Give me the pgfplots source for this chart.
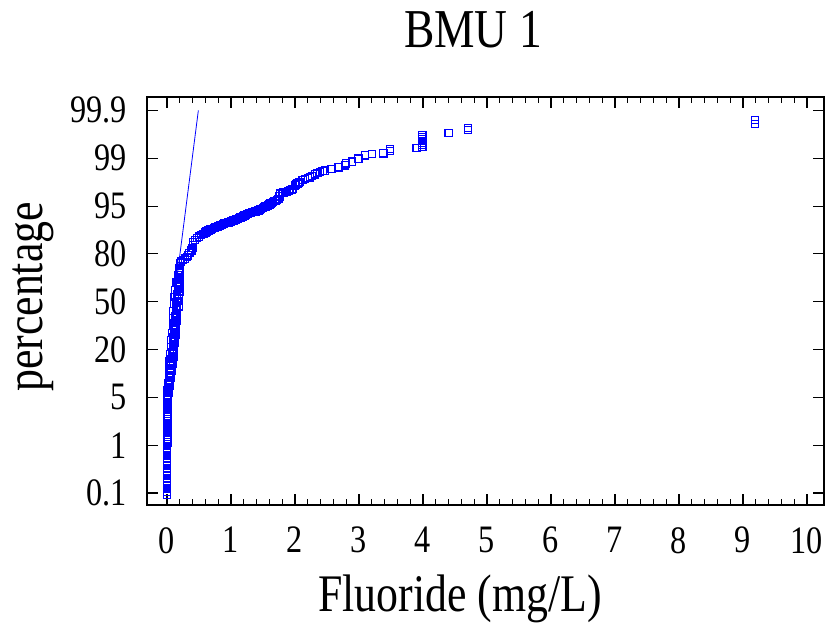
\documentclass[border=0pt]{standalone}
\usepackage{pgfplots}
\pgfplotsset{compat=1.18}
\usepackage{fontspec}
\setmainfont{Liberation Serif}[FakeStretch=0.83]
\begin{document}
\begin{tikzpicture}
\useasboundingbox (0,0) rectangle (825bp,624bp);
\begin{axis}[
  at={(147bp,119bp)}, anchor=south west,
  scale only axis, width=677bp, height=408bp,
  xmin=-0.3125, xmax=10.266, ymin=-0.25, ymax=8.28,
  axis line style={line width=1.2bp},
  tick style={line width=1.1bp, black},
  tick align=inside,
  major tick length=11bp, minor tick length=6bp,
  xtick={0,1,...,10}, minor x tick num=4,
  ytick={0,1,...,8},
  yticklabels={0.1,1,5,20,50,80,95,99,99.9},
  /pgf/number format/assume math mode=true,
  ticklabel style={font=\fontsize{39}{42}\selectfont, inner sep=0pt},
  xticklabel style={anchor=north, yshift=-22bp},
  yticklabel style={anchor=east, xshift=-20bp},
  clip=false,
]
\addplot[only marks, mark=square, mark size=3.6bp, mark options={draw=blue, fill=none, line width=1.2bp}] coordinates {
(0,-0.04) (0,0.02) (0,0.08) (0,0.14) (0,0.20) (0,0.26) (0,0.32) (0,0.38) (0,0.44) (0,0.50)
(0,0.56) (0,0.62) (0,0.68) (0,0.74) (0,0.80) (0,0.86) (0,0.92) (0,0.98)
(0,1.02) (0.01,1.06) (0.02,1.10) (0,1.14) (0.01,1.18) (0.02,1.22) (0,1.26) (0.01,1.30) (0.02,1.34)
(0,1.38) (0.01,1.42) (0.02,1.46) (0,1.50) (0.01,1.54) (0.02,1.58) (0,1.62) (0.01,1.66) (0.02,1.70)
(0,1.74) (0.01,1.78) (0.02,1.82) (0,1.86) (0.01,1.90) (0.02,1.94) (0,1.98)
(0.00,2.00) (0.01,2.05) (0.03,2.10) (0.01,2.15) (0.03,2.20) (0.04,2.25) (0.02,2.30) (0.04,2.35)
(0.06,2.40) (0.03,2.45) (0.05,2.50) (0.07,2.55) (0.04,2.60) (0.06,2.65) (0.09,2.70) (0.04,2.75)
(0.07,2.80) (0.10,2.85) (0.05,2.90) (0.08,2.95) (0.11,3.00) (0.06,3.05) (0.09,3.10) (0.12,3.15)
(0.07,3.20) (0.10,3.25) (0.13,3.30) (0.08,3.35) (0.11,3.40) (0.14,3.45) (0.09,3.50) (0.12,3.55)
(0.15,3.60) (0.10,3.65) (0.13,3.70) (0.16,3.75) (0.10,3.80) (0.14,3.85) (0.18,3.90) (0.11,3.95)
(0.15,4.00) (0.19,4.05) (0.12,4.10) (0.16,4.15) (0.20,4.20) (0.13,4.25) (0.17,4.30) (0.20,4.35)
(0.15,4.40) (0.18,4.45) (0.20,4.50) (0.17,4.55) (0.19,4.60) (0.20,4.65) (0.19,4.70) (0.20,4.75)
(0.20,4.80)
(0.02,2.02) (0.02,2.12) (0.02,2.22) (0.03,2.32) (0.04,2.42) (0.05,2.52) (0.05,2.62) (0.07,2.72)
(0.08,2.82) (0.09,2.92) (0.09,3.02) (0.10,3.12) (0.11,3.22) (0.12,3.32) (0.12,3.42) (0.13,3.52)
(0.14,3.62) (0.14,3.72) (0.15,3.82) (0.16,3.92) (0.17,4.02) (0.18,4.12) (0.18,4.22) (0.19,4.32)
(0.19,4.42) (0.19,4.52) (0.20,4.62)
(0.22,4.84) (0.25,4.87) (0.28,4.90) (0.31,4.93) (0.33,4.97) (0.35,5.02) (0.38,5.07) (0.40,5.12)
(0.41,5.18) (0.41,5.25) (0.44,5.29) (0.47,5.33) (0.50,5.36) (0.53,5.39) (0.57,5.42) (0.60,5.45)
(0.62,5.47) (0.65,5.49) (0.68,5.51) (0.70,5.52) (0.73,5.54) (0.75,5.55) (0.78,5.56) (0.80,5.57)
(0.83,5.59) (0.85,5.61) (0.88,5.63) (0.90,5.64) (0.93,5.65) (0.96,5.66) (0.98,5.67) (1.00,5.68)
(1.02,5.69) (1.04,5.70) (1.06,5.71) (1.08,5.72)
(1.11,5.73) (1.13,5.75) (1.15,5.76) (1.17,5.77) (1.19,5.78) (1.21,5.80) (1.23,5.81) (1.25,5.83)
(1.27,5.84) (1.29,5.85) (1.31,5.86) (1.33,5.87) (1.35,5.87) (1.38,5.89) (1.40,5.90)
(1.43,5.91) (1.45,5.93) (1.47,5.94) (1.50,5.96) (1.52,5.98) (1.54,5.99) (1.56,6.00) (1.58,6.01)
(1.60,6.03) (1.62,6.05) (1.64,6.07) (1.66,6.08) (1.68,6.10) (1.70,6.11) (1.72,6.13)
(1.74,6.15) (1.76,6.20) (1.77,6.26) (1.80,6.27) (1.82,6.28) (1.85,6.29) (1.87,6.29) (1.90,6.31)
(1.92,6.33) (1.95,6.35) (1.97,6.36) (2.00,6.43) (2.02,6.45)
(2.04,6.47) (2.06,6.49) (2.08,6.50) (2.12,6.54) (2.16,6.57) (2.20,6.59) (2.23,6.60) (2.27,6.63)
(2.31,6.66) (2.35,6.69) (2.39,6.71) (2.43,6.73) (2.47,6.74)
(2.57,6.78) (2.68,6.81) (2.78,6.85) (2.80,6.89) (2.89,6.93) (2.99,6.99) (3.09,7.06) (3.20,7.09)
(3.38,7.10) (3.48,7.15) (3.48,7.19) (3.90,7.21) (3.99,7.24) (3.99,7.28) (3.99,7.32) (3.99,7.36)
(3.99,7.40) (3.99,7.44) (3.99,7.48) (4.40,7.53) (4.70,7.59) (4.70,7.63) (9.19,7.72) (9.19,7.80)
};
\addplot[blue, line width=0.8bp] coordinates {(0.155,4.5) (0.49,8.0)};
\end{axis}
\node[anchor=base, font=\fontsize{55}{60}\selectfont] at (473bp,576bp) {BMU 1};
\node[anchor=base, font=\fontsize{53}{58}\selectfont] at (460bp,13bp) {Fluoride (mg/L)};
\node[rotate=90, anchor=base, font=\fontsize{53}{58}\selectfont] at (42bp,327bp) {percentage};
\end{tikzpicture}
\end{document}
